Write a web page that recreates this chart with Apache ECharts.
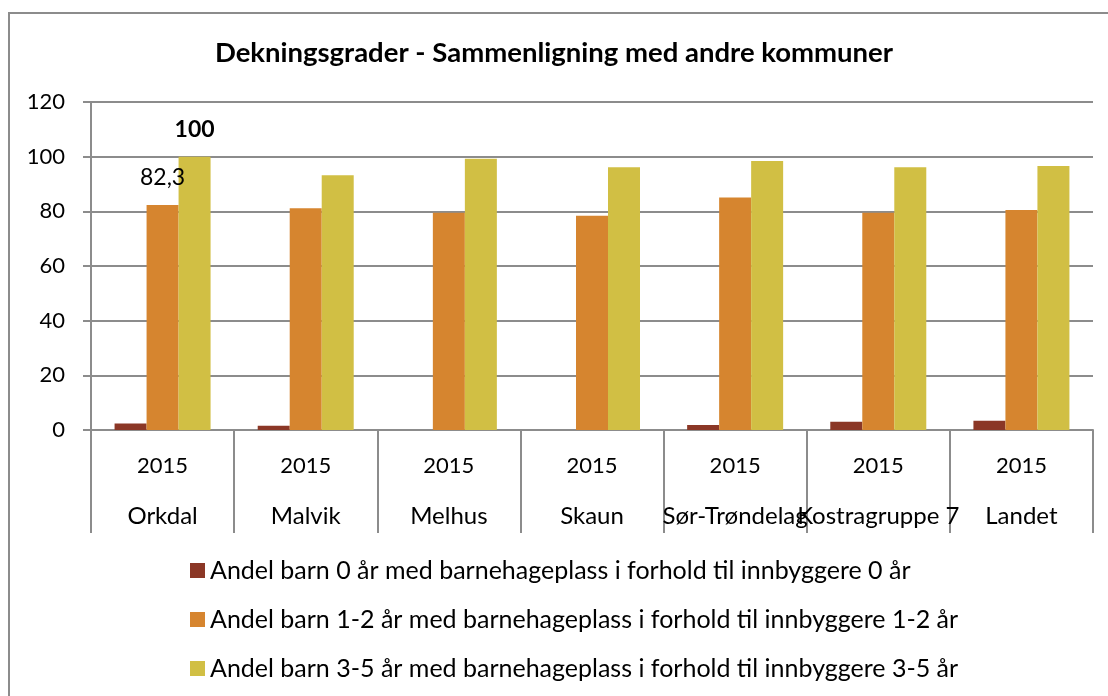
<!DOCTYPE html>
<html>
<head>
<meta charset="utf-8">
<title>Dekningsgrader</title>
<script src="https://cdn.jsdelivr.net/npm/echarts/dist/echarts.min.js"></script>
<style>
  html, body { margin: 0; padding: 0; background: #fff; }
  .chart { width: 1108px; height: 696px; }
</style>
</head>
<body>
<div class="chart"></div>
<script>
// kategorier og verdier (lest av bildet)
const kommuner = ["Orkdal", "Malvik", "Melhus", "Skaun", "Sør-Trøndelag", "Kostragruppe 7", "Landet"];
const aar = ["2015", "2015", "2015", "2015", "2015", "2015", "2015"];
const serieNavn = [
  "Andel barn 0 år med barnehageplass i forhold til innbyggere 0 år",
  "Andel barn 1-2 år med barnehageplass i forhold til innbyggere 1-2 år",
  "Andel barn 3-5 år med barnehageplass i forhold til innbyggere 3-5 år",
];
const barn0 = [2.4, 1.6, 0, 0, 1.8, 3.0, 3.4];
const barn12 = [82.3, 81.1, 79.5, 78.4, 85.1, 79.5, 80.5];
const barn35 = [100, 93.2, 99.2, 96.1, 98.4, 96.1, 96.6];
const yTicks = [0, 20, 40, 60, 80, 100, 120];

(function () {
  const el = document.querySelector(".chart");
  const myChart = echarts.init(el);
  const font = "Lato";
  const gray = "#8c8c8c";

  // bare første søyle har dataetikett
  function medEtikett(values, bold) {
    return values.map(function (v, i) {
      if (i !== 0) return v;
      return {
        value: v,
        label: {
          show: true,
          position: "top",
          distance: 16,
          fontFamily: font,
          fontSize: 23,
          fontWeight: bold ? "bold" : "normal",
          color: "#000",
          formatter: function (p) {
            return String(p.value).replace(".", ",");
          },
        },
      };
    });
  }

  const option = {
    animation: false,
    color: ["#8b3726", "#d6852f", "#d1bf44"],
    title: {
      text: "Dekningsgrader - Sammenligning med andre kommuner",
      left: "center",
      top: 34,
      textStyle: {
        fontFamily: font,
        fontSize: 27.5,
        fontWeight: "bold",
        color: "#000",
      },
    },
    graphic: [
      {
        type: "rect",
        shape: { x: 9, y: 13, width: 1200, height: 1000 },
        style: { fill: "none", stroke: gray, lineWidth: 2 },
        z: -1,
      },
    ],
    legend: {
      orient: "vertical",
      left: 185,
      top: 553,
      itemWidth: 15,
      itemHeight: 15,
      itemGap: 24,
      icon: "rect",
      textStyle: {
        fontFamily: font,
        fontSize: 25,
        lineHeight: 25,
        color: "#000",
      },
      data: serieNavn,
    },
    grid: {
      left: 91,
      right: 15,
      top: 102,
      bottom: 266,
    },
    xAxis: {
      type: "category",
      data: kommuner,
      axisLine: { lineStyle: { color: gray, width: 2 } },
      axisTick: { show: true, length: 103, lineStyle: { color: gray, width: 2 } },
      axisLabel: {
        margin: 10,
        interval: 0,
        fontFamily: font,
        formatter: function (v, i) {
          return "{y|" + aar[i] + "}\n{n|" + v + "}";
        },
        rich: {
          y: { fontFamily: font, fontSize: 22, lineHeight: 51, color: "#000" },
          n: { fontFamily: font, fontSize: 24, lineHeight: 51, color: "#000" },
        },
      },
    },
    yAxis: {
      type: "value",
      min: yTicks[0],
      max: yTicks[yTicks.length - 1],
      interval: yTicks[1] - yTicks[0],
      axisLine: { show: true, lineStyle: { color: gray, width: 2 } },
      axisTick: { show: true, length: 8, lineStyle: { color: gray, width: 2 } },
      axisLabel: {
        margin: 26,
        fontFamily: font,
        fontSize: 22,
        color: "#000",
      },
      splitLine: { lineStyle: { color: gray, width: 2 } },
    },
    series: [
      {
        name: serieNavn[0],
        type: "bar",
        barWidth: 32,
        barGap: "0%",
        data: barn0,
      },
      {
        name: serieNavn[1],
        type: "bar",
        barWidth: 32,
        barGap: "0%",
        data: medEtikett(barn12, false),
      },
      {
        name: serieNavn[2],
        type: "bar",
        barWidth: 32,
        barGap: "0%",
        data: medEtikett(barn35, true),
      },
    ],
  };
  myChart.setOption(option);

  window.addEventListener("resize", function () {
    myChart.resize();
  });
})();
</script>
</body>
</html>
